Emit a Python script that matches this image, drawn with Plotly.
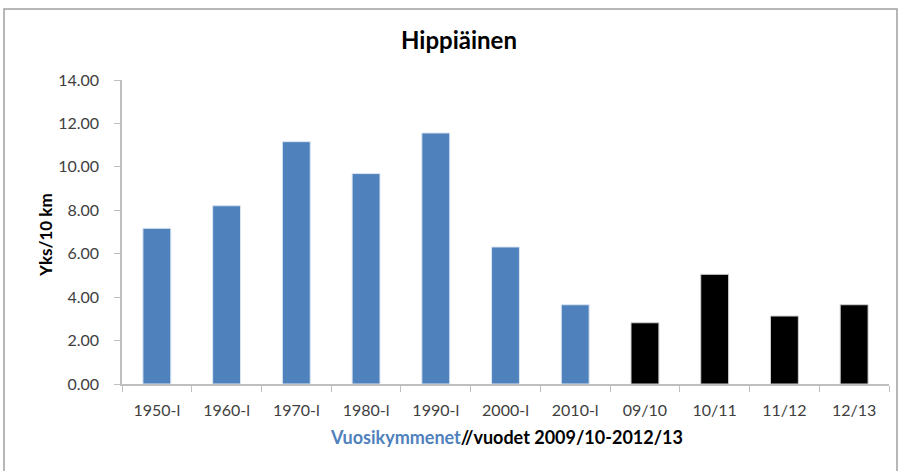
import plotly.graph_objects as go

# Talvilaskennat: hippiäinen, yksilöä / 10 km
decade_labels = ["1950-l", "1960-l", "1970-l", "1980-l", "1990-l", "2000-l", "2010-l"]
decade_values = [7.17, 8.21, 11.16, 9.69, 11.56, 6.31, 3.65]
season_labels = ["09/10", "10/11", "11/12", "12/13"]
season_values = [2.82, 5.05, 3.13, 3.65]
y_ticks = [0, 2, 4, 6, 8, 10, 12, 14]

W, H = 901, 471
L, R, T, B = 122, 12, 80, 87
pw, ph = W - L - R, H - T - B


def px_x(p):
    return (p - L) / pw


def px_y(p):
    return (H - B - p) / ph


font = "Lato, Noto Sans, sans-serif"

fig = go.Figure()
fig.add_bar(
    x=decade_labels,
    y=decade_values,
    marker=dict(color="#4f81bd", line=dict(color="#dce6f2", width=1)),
    name="Vuosikymmenet",
)
fig.add_bar(
    x=season_labels,
    y=season_values,
    marker=dict(color="#000000", line=dict(color="#d0d0d0", width=1)),
    name="Vuodet",
)

fig.update_layout(
    width=W,
    height=H,
    margin=dict(l=L, r=R, t=T, b=B),
    paper_bgcolor="white",
    plot_bgcolor="white",
    showlegend=False,
    barmode="overlay",
    bargap=0.6,
    font=dict(family=font, size=16, color="#404040"),
    title=dict(
        text="<b>Hippiäinen</b>",
        x=px_x(459),
        xref="paper",
        xanchor="center",
        y=1 - 41 / H,
        yanchor="middle",
        font=dict(family=font, size=24, color="black"),
    ),
)

fig.update_xaxes(
    type="category",
    categoryorder="array",
    categoryarray=decade_labels + season_labels,
    showline=True,
    linecolor="#bfbfbf",
    linewidth=1.5,
    ticks="outside",
    tickson="boundaries",
    ticklen=6,
    tickcolor="#bfbfbf",
    ticklabelstandoff=11,
    showgrid=False,
    tickfont=dict(size=16, color="#404040"),
)
fig.update_yaxes(
    range=[0, 14],
    tickvals=y_ticks,
    tickformat=".2f",
    showline=True,
    linecolor="#bfbfbf",
    linewidth=1.5,
    ticks="outside",
    ticklen=6,
    tickcolor="#bfbfbf",
    ticklabelstandoff=12,
    showgrid=False,
    zeroline=False,
    tickfont=dict(size=16, color="#404040"),
)

# y-akselin otsikko
fig.add_annotation(
    text="<b>Yks/10 km</b>",
    x=px_x(45),
    y=px_y(235),
    xref="paper",
    yref="paper",
    xanchor="center",
    yanchor="middle",
    textangle=-90,
    showarrow=False,
    font=dict(family=font, size=17, color="black"),
)
# x-akselin otsikko, kaksivärinen
fig.add_annotation(
    text="<b><span style='color:#4f81bd'>Vuosikymmenet</span>//vuodet 2009/10-2012/13</b>",
    x=px_x(506),
    y=px_y(437),
    xref="paper",
    yref="paper",
    xanchor="center",
    yanchor="middle",
    showarrow=False,
    font=dict(family=font, size=18, color="black"),
)

# kehys koko kaavion ympärillä
fig.add_shape(
    type="rect",
    xref="paper",
    yref="paper",
    x0=px_x(4),
    x1=px_x(897),
    y0=px_y(480),
    y1=px_y(9),
    line=dict(color="#a0a0a0", width=1.5),
    layer="below",
)

fig.write_html(
    "out.html",
    config={"displayModeBar": False},
    post_script="document.body.style.margin='0';",
)
